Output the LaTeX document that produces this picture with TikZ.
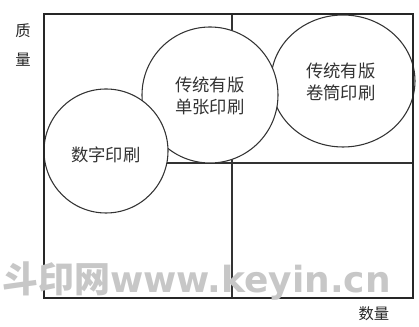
\documentclass[tikz,border=0pt]{standalone}
\usepackage{fontspec}
\newfontfamily\cjk{Noto Sans CJK SC}
\newfontfamily\wmfont{DejaVu Sans}
\tikzset{
  frame/.style={draw=black!85, line width=1.6pt},
  grid/.style={draw=black!80, line width=0.8pt},
  bubble/.style={draw=black!80, line width=0.8pt, fill=white},
  lbl/.style={font=\cjk\fontsize{13}{17}\selectfont, text=black!80, align=center},
  axis/.style={font=\cjk\fontsize{11.5}{13}\selectfont, text=black!85},
}
\begin{document}
\begin{tikzpicture}[x=0.75pt,y=-0.75pt]
\useasboundingbox (0,0) rectangle (419,327);
\fill[white] (0,0) rectangle (419,327);
% frame and quadrant lines
\coordinate (tl) at (44,14);
\coordinate (br) at (413,298);
\coordinate (vt) at (232,14);
\coordinate (vb) at (232,298);
\coordinate (hl) at (44,163);
\coordinate (hr) at (413,163);
\draw[grid] (vt) -- (vb);
\draw[grid] (hl) -- (hr);
% bubbles
\draw[bubble] (343,81) ellipse [x radius=72, y radius=66];
\draw[bubble] (210,95) circle [radius=68];
\draw[bubble] (106,151) circle [radius=62];
\draw[frame] (tl) rectangle (br);
% labels
\node[lbl] (dan) at (210,96) {传统有版\\单张印刷};
\node[lbl] (juan) at (341,82) {传统有版\\卷筒印刷};
\node[lbl] (shu) at (106,155) {数字印刷};
\node[axis] (zl1) at (23,31) {质};
\node[axis] (zl2) at (23,60) {量};
\node[axis] (sl) at (374,314) {数量};
% watermark
\node[anchor=base west, inner sep=0pt, font=\cjk\bfseries\fontsize{27}{29}\selectfont, text=black!22] (wm) at (2,293) {斗印网\wmfont\bfseries www.keyin.cn};
\end{tikzpicture}
\end{document}
